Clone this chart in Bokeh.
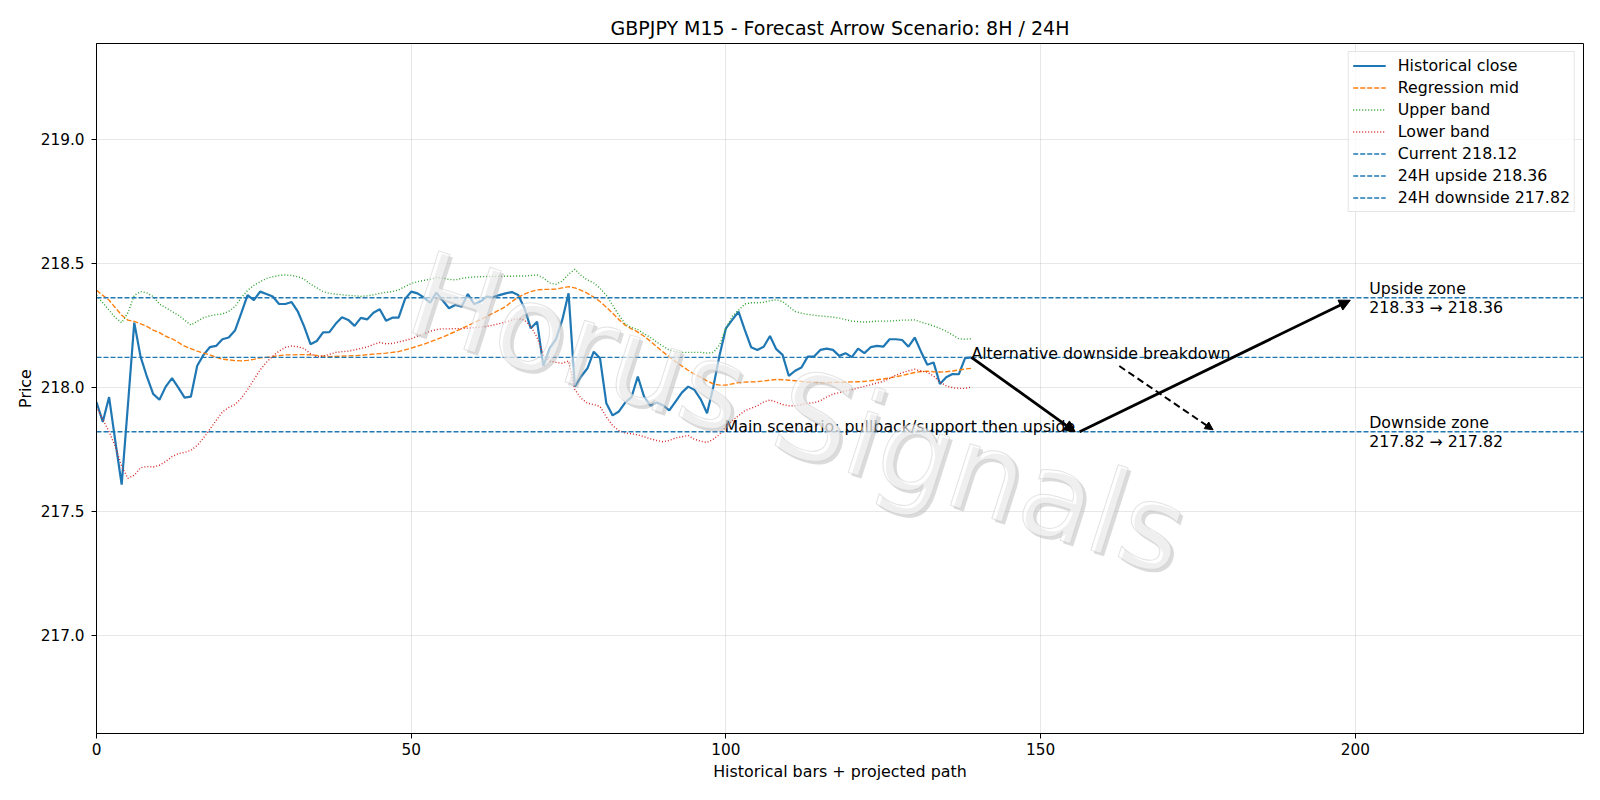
from bokeh.plotting import figure
from bokeh.models import (Range1d, FixedTicker, PrintfTickFormatter, Arrow,
                          NormalHead, Legend, LegendItem)
from bokeh.core.properties import value
from bokeh.embed import file_html
from bokeh.resources import INLINE

FONT = "DejaVu Sans"

# --- historical M15 closes and regression channel ---------------------------
close = [
    217.94, 217.86, 217.96, 217.78, 217.607, 217.93, 218.26, 218.123, 218.043, 217.973,
    217.949, 218.002, 218.036, 217.998, 217.958, 217.962, 218.086, 218.13, 218.161, 218.166,
    218.193, 218.2, 218.228, 218.298, 218.371, 218.351, 218.385, 218.375, 218.365, 218.335,
    218.335, 218.343, 218.304, 218.244, 218.173, 218.186, 218.221, 218.222, 218.255, 218.282,
    218.271, 218.247, 218.279, 218.273, 218.3, 218.314, 218.268, 218.28, 218.28, 218.354,
    218.385, 218.378, 218.362, 218.34, 218.381, 218.349, 218.318, 218.331, 218.324, 218.375,
    218.335, 218.345, 218.365, 218.362, 218.371, 218.378, 218.383, 218.371, 218.318, 218.237,
    218.264, 218.086, 218.157, 218.193, 218.271, 218.378, 218.002, 218.043, 218.076, 218.143,
    218.116, 217.935, 217.886, 217.902, 217.938, 217.96, 218.043, 217.962, 217.925, 217.938,
    217.927, 217.906, 217.942, 217.978, 218.002, 217.989, 217.951, 217.895, 218.002, 218.13,
    218.237, 218.271, 218.304, 218.231, 218.161, 218.15, 218.163, 218.206, 218.153, 218.13,
    218.045, 218.066, 218.079, 218.123, 218.123, 218.15, 218.155, 218.15, 218.126, 218.137,
    218.121, 218.155, 218.137, 218.161, 218.166, 218.163, 218.193, 218.193, 218.19, 218.163,
    218.2, 218.143, 218.09, 218.099, 218.013, 218.04, 218.053, 218.052, 218.117, 218.12,
]

reg_mid = [
    218.39, 218.37, 218.35, 218.32, 218.29, 218.27, 218.265, 218.255, 218.245, 218.23,
    218.22, 218.205, 218.195, 218.18, 218.165, 218.155, 218.145, 218.137, 218.13, 218.12,
    218.113, 218.11, 218.107, 218.106, 218.108, 218.112, 218.118, 218.12, 218.123, 218.127,
    218.13, 218.13, 218.131, 218.131, 218.13, 218.128, 218.125, 218.123, 218.124, 218.125,
    218.126, 218.127, 218.128, 218.131, 218.133, 218.135, 218.137, 218.14, 218.143, 218.15,
    218.157, 218.165, 218.173, 218.182, 218.192, 218.202, 218.213, 218.224, 218.236, 218.248,
    218.26, 218.272, 218.285, 218.298, 218.311, 218.325, 218.345, 218.362, 218.375, 218.385,
    218.392, 218.394, 218.394, 218.395, 218.4, 218.405, 218.4, 218.39, 218.378, 218.363,
    218.345, 218.322, 218.298, 218.272, 218.25, 218.235, 218.222, 218.205, 218.185, 218.163,
    218.142, 218.122, 218.103, 218.085, 218.068, 218.052, 218.04, 218.025, 218.013, 218.008,
    218.008, 218.013, 218.018, 218.02, 218.021, 218.022, 218.025, 218.028, 218.031, 218.03,
    218.028, 218.026, 218.023, 218.02, 218.019, 218.018, 218.018, 218.019, 218.019, 218.02,
    218.021, 218.022, 218.023, 218.026, 218.03, 218.033, 218.037, 218.042, 218.047, 218.053,
    218.059, 218.063, 218.064, 218.062, 218.061, 218.062, 218.065, 218.069, 218.073, 218.076,
]

upper_band = [
    218.37, 218.34, 218.31, 218.28, 218.26, 218.3, 218.37, 218.385, 218.38, 218.365,
    218.335, 218.32, 218.305, 218.29, 218.27, 218.25, 218.265, 218.28, 218.287, 218.292,
    218.295, 218.305, 218.325, 218.36, 218.39, 218.41, 218.425, 218.438, 218.445, 218.45,
    218.452, 218.45, 218.445, 218.435, 218.415, 218.4, 218.385, 218.378, 218.375, 218.372,
    218.37, 218.368, 218.366, 218.368, 218.372, 218.378, 218.382, 218.385, 218.392, 218.405,
    218.418, 218.425, 218.43, 218.435, 218.442, 218.44, 218.434, 218.432, 218.438, 218.442,
    218.444, 218.445, 218.446, 218.446, 218.446, 218.447, 218.447, 218.448, 218.448, 218.45,
    218.452, 218.44, 218.42, 218.414, 218.428, 218.455, 218.475, 218.45, 218.432, 218.42,
    218.398, 218.37, 218.33, 218.29, 218.255, 218.24, 218.232, 218.215, 218.2, 218.182,
    218.165, 218.15, 218.143, 218.14, 218.14, 218.14, 218.14, 218.137, 218.14, 218.17,
    218.237, 218.285, 218.31, 218.335, 218.34, 218.34, 218.342, 218.348, 218.352, 218.345,
    218.325, 218.305, 218.298, 218.293, 218.29, 218.287, 218.285, 218.282, 218.278, 218.272,
    218.266, 218.264, 218.262, 218.264, 218.266, 218.266, 218.266, 218.268, 218.27, 218.27,
    218.271, 218.262, 218.255, 218.246, 218.237, 218.225, 218.21, 218.195, 218.193, 218.195,
]

lower_band = [
    217.92, 217.87, 217.82, 217.76, 217.68, 217.632, 217.645, 217.675, 217.68, 217.678,
    217.685, 217.7, 217.72, 217.732, 217.737, 217.745, 217.765, 217.795, 217.83, 217.865,
    217.9, 217.918, 217.93, 217.955, 217.99, 218.03, 218.07, 218.1, 218.125, 218.145,
    218.16, 218.166, 218.163, 218.155, 218.135, 218.122, 218.125, 218.132, 218.14, 218.143,
    218.145, 218.15, 218.156, 218.162, 218.172, 218.18, 218.175, 218.176, 218.182, 218.188,
    218.195, 218.205, 218.215, 218.225, 218.232, 218.235, 218.235, 218.236, 218.236, 218.238,
    218.24, 218.242, 218.245, 218.25, 218.256, 218.262, 218.27, 218.277, 218.27, 218.245,
    218.2, 218.13, 218.105, 218.1, 218.096, 218.105, 217.99, 217.955, 217.935, 217.93,
    217.922, 217.88, 217.845, 217.825, 217.815, 217.812, 217.808, 217.8, 217.792, 217.785,
    217.78, 217.785, 217.795, 217.8, 217.805, 217.79, 217.782, 217.777, 217.79, 217.81,
    217.84, 217.865, 217.885, 217.905, 217.915, 217.925, 217.94, 217.948, 217.94, 217.93,
    217.925, 217.925, 217.93, 217.935, 217.937, 217.945, 217.96, 217.972, 217.978, 217.985,
    217.99, 217.997, 218.003, 218.01, 218.017, 218.023, 218.035, 218.048, 218.058, 218.066,
    218.072, 218.065, 218.06, 218.045, 218.02, 218.005, 217.998, 217.995, 217.995, 218.0,
]

bars = list(range(len(close)))

# --- reference levels ---------------------------------------------------------
current_px = 218.12
upside_24h = 218.36
downside_24h = 217.82
upside_zone = (218.33, 218.36)
downside_zone = (217.82, 217.82)

# --- projected scenario arrows: (x0, y0, x1, y1) ------------------------------
main_leg1 = (139, 218.12, 155.5, 217.82)
main_leg2 = (156.2, 217.82, 199.2, 218.35)
alt_leg = (162.5, 218.085, 177.4, 217.828)
zone_label_x = 202.2

x_lo, x_hi = 0, 236.25
y_lo, y_hi = 216.604, 219.385

p = figure(width=1600, height=800, output_backend="svg", toolbar_location=None,
           x_range=Range1d(x_lo, x_hi), y_range=Range1d(y_lo, y_hi),
           min_border_left=96, min_border_right=17, min_border_top=43,
           min_border_bottom=67,
           title="GBPJPY M15 - Forecast Arrow Scenario: 8H / 24H")
p.background_fill_color = "white"
p.border_fill_color = "white"
p.outline_line_color = "black"
p.outline_line_width = 1
p.outline_line_alpha = 1

p.title.align = "center"
p.title.text_font = FONT
p.title.text_font_size = "19px"
p.title.text_font_style = "normal"
p.title.text_color = "black"
p.title.standoff = 10

for ax in (p.xaxis[0], p.yaxis[0]):
    ax.axis_line_color = "black"
    ax.major_tick_line_color = "black"
    ax.major_tick_out = 5
    ax.major_tick_in = 0
    ax.minor_tick_line_color = None
    ax.major_label_text_font = FONT
    ax.major_label_text_font_size = "15.3px"
    ax.major_label_text_color = "black"
    ax.axis_label_text_font = FONT
    ax.axis_label_text_font_size = "15.9px"
    ax.axis_label_text_font_style = "normal"
    ax.axis_label_text_color = "black"

p.xaxis.axis_label = "Historical bars + projected path"
p.yaxis.axis_label = "Price"
p.xaxis.ticker = FixedTicker(ticks=[0, 50, 100, 150, 200])
p.yaxis.ticker = FixedTicker(ticks=[217.0, 217.5, 218.0, 218.5, 219.0])
p.yaxis.formatter = PrintfTickFormatter(format="%.1f")
p.xaxis.major_label_standoff = 4
p.yaxis.major_label_standoff = 7
p.xaxis.axis_label_standoff = 4
p.yaxis.axis_label_standoff = 3

for g in (p.xgrid[0], p.ygrid[0]):
    g.grid_line_color = "#b0b0b0"
    g.grid_line_alpha = 0.3
    g.grid_line_width = 1

BLUE, ORANGE, GREEN, RED = "#1f77b4", "#ff7f0e", "#2ca02c", "#d62728"

r_close = p.line(bars, close, line_color=BLUE, line_width=2.2)
r_mid = p.line(bars, reg_mid, line_color=ORANGE, line_width=1.4, line_dash="5 2")
r_up = p.line(bars, upper_band, line_color=GREEN, line_width=1.4, line_dash="1 2")
r_lo = p.line(bars, lower_band, line_color=RED, line_width=1.4, line_dash="1 2")

r_cur = p.line([x_lo, x_hi], [current_px, current_px], line_color=BLUE,
               line_width=1.4, line_dash="5 2")
r_h_up = p.line([x_lo, x_hi], [upside_24h, upside_24h], line_color=BLUE,
                line_width=1.4, line_dash="5 2")
r_h_dn = p.line([x_lo, x_hi], [downside_24h, downside_24h], line_color=BLUE,
                line_width=1.4, line_dash="5 2")

# scenario arrows
for (x0, y0, x1, y1) in (main_leg1, main_leg2):
    p.add_layout(Arrow(end=NormalHead(size=11, fill_color="black", line_color="black"),
                       x_start=x0, y_start=y0, x_end=x1, y_end=y1,
                       line_color="black", line_width=2.8))
x0, y0, x1, y1 = alt_leg
p.add_layout(Arrow(end=NormalHead(size=8, fill_color="black", line_color="black"),
                   x_start=x0, y_start=y0, x_end=x1, y_end=y1,
                   line_color="black", line_width=2.0, line_dash="7 4"))

txt = dict(text_font=value(FONT), text_font_size="15.8px", text_color="black")
p.text(x=[main_leg1[0]], y=[main_leg1[1]], text=["Alternative downside breakdown"],
       text_align="left", text_baseline="alphabetic", y_offset=-4, **txt)
p.text(x=[main_leg1[2]], y=[main_leg1[3]],
       text=["Main scenario: pullback/support then upside"],
       text_align="right", text_baseline="bottom", y_offset=4, **txt)
p.text(x=[zone_label_x], y=[upside_24h],
       text=[f"Upside zone\n{upside_zone[0]:.2f} \u2192 {upside_zone[1]:.2f}"],
       text_align="left", text_baseline="middle", text_line_height=1.03, **txt)
p.text(x=[zone_label_x], y=[downside_24h],
       text=[f"Downside zone\n{downside_zone[0]:.2f} \u2192 {downside_zone[1]:.2f}"],
       text_align="left", text_baseline="middle", text_line_height=1.03, **txt)

# watermark
wm = dict(x=[111.5], y=[217.894], text=["Horus Signals"], angle=-0.31,
          text_font=value(FONT), text_font_size="118px",
          text_align="center", text_baseline="middle")
p.text(text_color="#b0b0b0", text_alpha=0.45, x_offset=3, y_offset=3, **wm)
p.text(text_color="white", text_alpha=0.55, text_outline_color="#cccccc", **wm)

legend = Legend(items=[
    LegendItem(label="Historical close", renderers=[r_close]),
    LegendItem(label="Regression mid", renderers=[r_mid]),
    LegendItem(label="Upper band", renderers=[r_up]),
    LegendItem(label="Lower band", renderers=[r_lo]),
    LegendItem(label=f"Current {current_px:.2f}", renderers=[r_cur]),
    LegendItem(label=f"24H upside {upside_24h:.2f}", renderers=[r_h_up]),
    LegendItem(label=f"24H downside {downside_24h:.2f}", renderers=[r_h_dn]),
], location="top_right")
legend.label_text_font = FONT
legend.label_text_font_size = "15.8px"
legend.label_text_color = "black"
legend.glyph_width = 33
legend.glyph_height = 17
legend.label_height = 17
legend.spacing = 3
legend.padding = 4
legend.margin = 8
legend.label_standoff = 12
legend.border_line_color = "#cccccc"
legend.background_fill_alpha = 0.8
p.add_layout(legend)

open("out.html", "w").write(file_html(p, INLINE))
